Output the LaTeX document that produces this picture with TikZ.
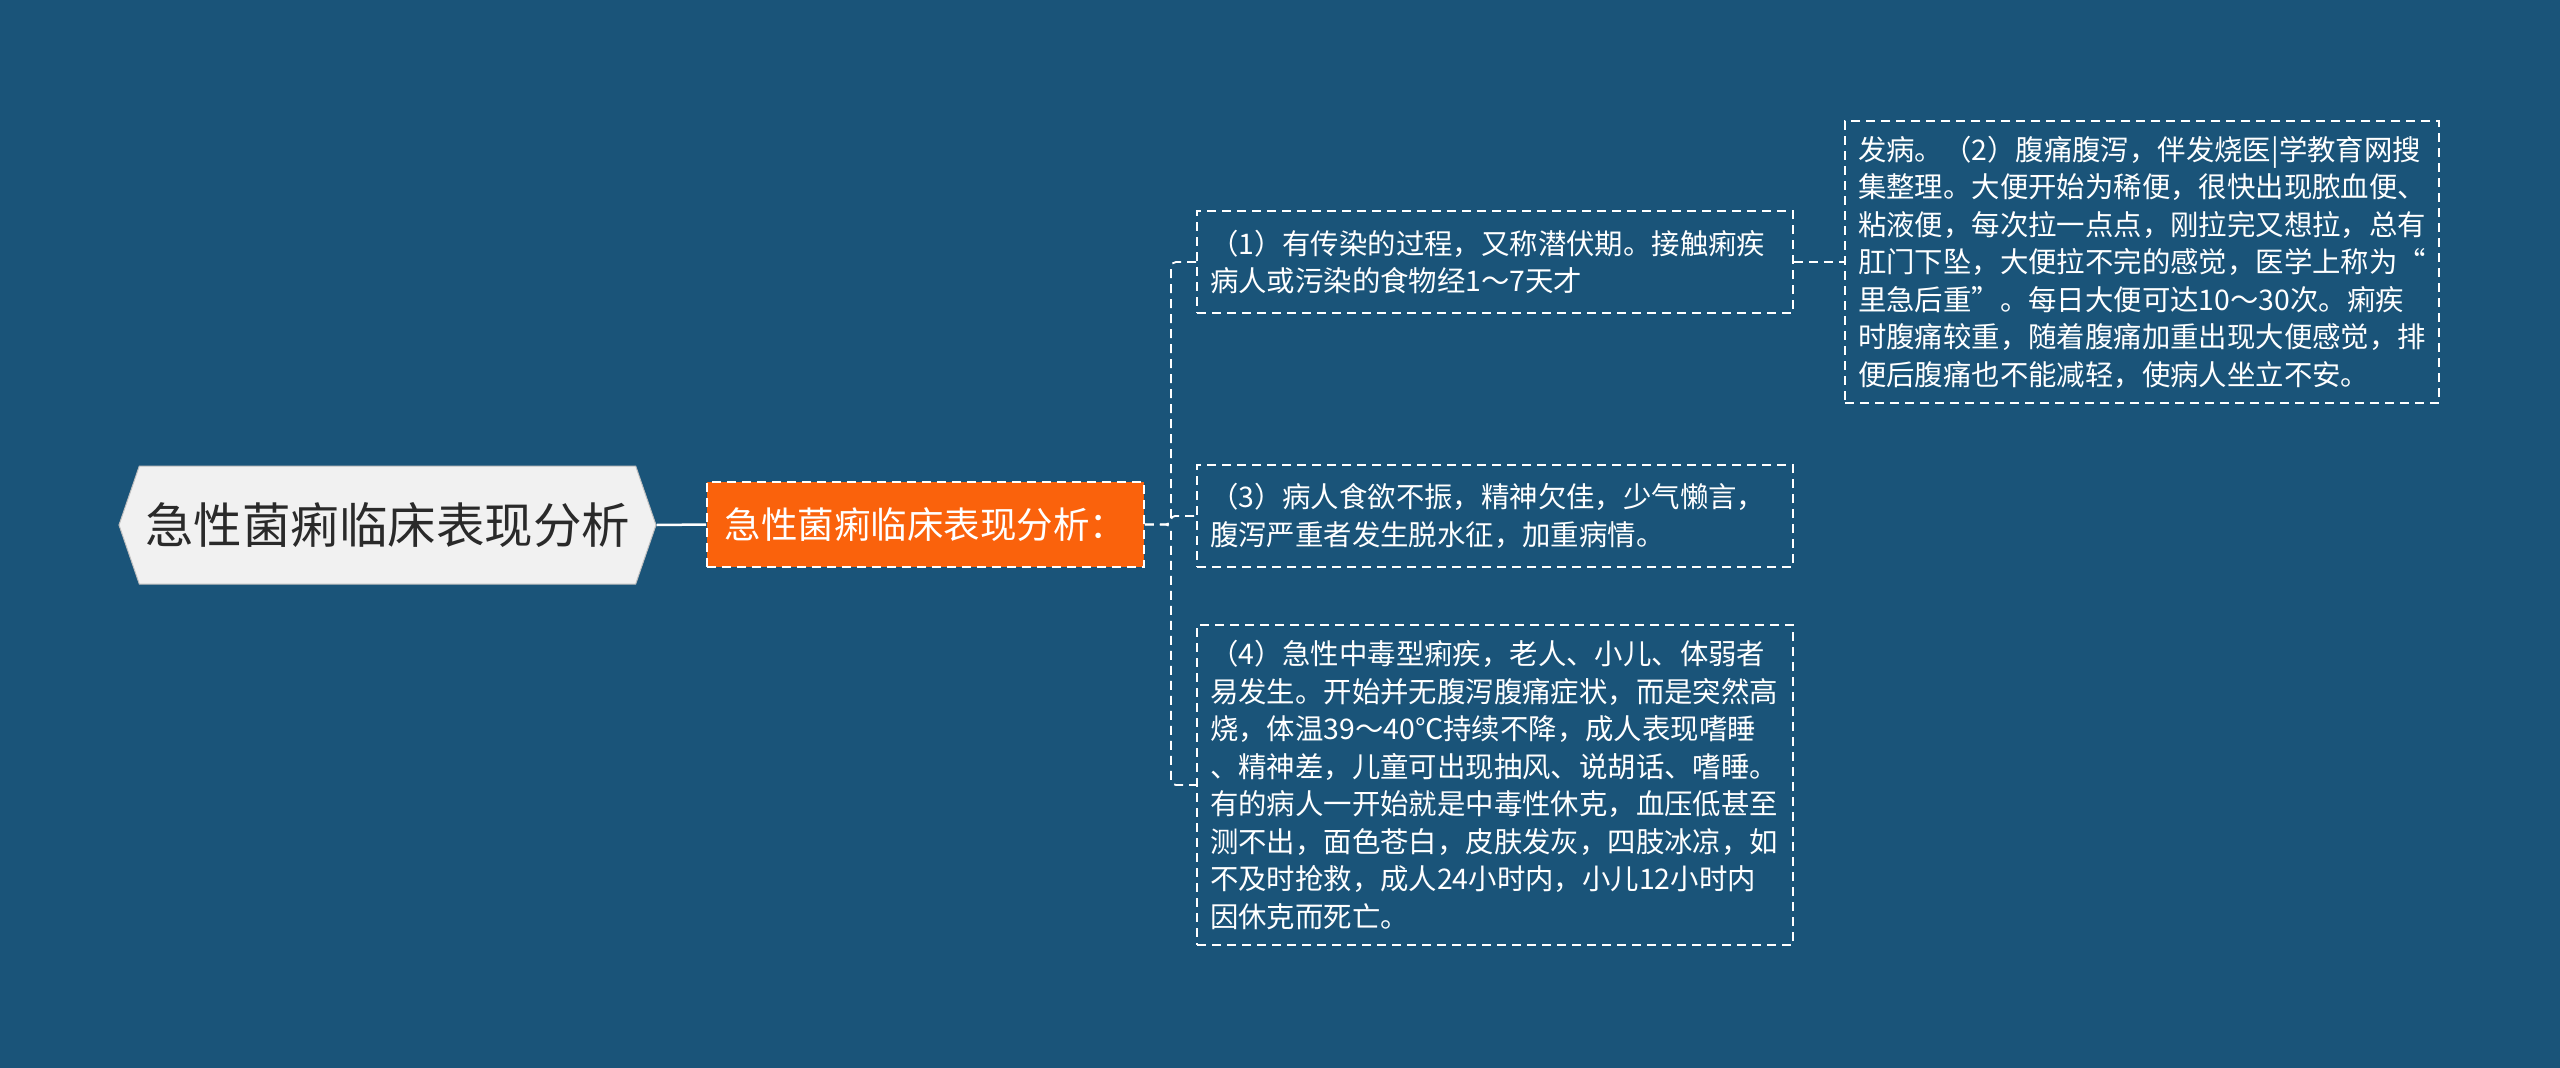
\documentclass[tikz,border=0pt]{standalone}
\usepackage{fontspec}
\newfontfamily\cjk{Noto Sans CJK SC}
\usetikzlibrary{shapes.symbols}
\definecolor{bg}{HTML}{1A5479}
\definecolor{orangebox}{HTML}{FA620C}
\definecolor{rootfill}{HTML}{F1F1F1}
\definecolor{roottext}{HTML}{2A2A2A}
\tikzset{
  x=1pt, y=-1pt,
  conn/.style={draw=white, line width=1.8pt, dash pattern=on 9pt off 6pt},
  textbox/.style={draw=white, line width=1.8pt, dash pattern=on 9pt off 6pt,
    text=white, font=\cjk\fontsize{28.4}{37.5}\selectfont, align=left,
    inner xsep=13pt, inner ysep=6pt},
}
\begin{document}
\begin{tikzpicture}
\fill[bg] (0,0) rectangle (2560,1068);
\useasboundingbox (0,0) rectangle (2560,1068);

\node[signal, signal to=west and east, signal pointer angle=142,
      fill=rootfill, draw=black!25, line width=1pt, text=roottext,
      font=\cjk\fontsize{48.5}{56}\selectfont,
      minimum width=537pt, minimum height=118pt, inner sep=0pt]
  (root) at (387.5,525) {急性菌痢临床表现分析};

\node[fill=orangebox, draw=white, line width=1.8pt, dash pattern=on 9pt off 6pt,
      text=white, font=\cjk\fontsize{36.5}{44}\selectfont,
      minimum width=437pt, minimum height=85pt, inner sep=0pt]
  (orange) at (925.5,524.5) {急性菌痢临床表现分析：};

\node[textbox, text width=570pt, minimum height=102pt] (b1) at (1495,262)
  {（1）有传染的过程，又称潜伏期。接触痢疾\\病人或污染的食物经1～7天才};

\node[textbox, text width=568pt, minimum height=282pt] (b2) at (2142,262)
  {发病。（2）腹痛腹泻，伴发烧医|学教育网搜\\集整理。大便开始为稀便，很快出现脓血便、\\粘液便，每次拉一点点，刚拉完又想拉，总有\\肛门下坠，大便拉不完的感觉，医学上称为“\\里急后重”。每日大便可达10～30次。痢疾\\时腹痛较重，随着腹痛加重出现大便感觉，排\\便后腹痛也不能减轻，使病人坐立不安。};

\node[textbox, text width=570pt, minimum height=102pt] (b3) at (1495,516)
  {（3）病人食欲不振，精神欠佳，少气懒言，\\腹泻严重者发生脱水征，加重病情。};

\node[textbox, text width=570pt, minimum height=320pt] (b4) at (1495,785)
  {（4）急性中毒型痢疾，老人、小儿、体弱者\\易发生。开始并无腹泻腹痛症状，而是突然高\\烧，体温39～40℃持续不降，成人表现嗜睡\\、精神差，儿童可出现抽风、说胡话、嗜睡。\\有的病人一开始就是中毒性休克，血压低甚至\\测不出，面色苍白，皮肤发灰，四肢冰凉，如\\不及时抢救，成人24小时内，小儿12小时内\\因休克而死亡。};

\draw[white, line width=2.5pt] (root.east) -- (orange.west);
\draw[conn, rounded corners=5pt] (orange.east) -- ([xshift=26pt]orange.east) |- (b1.west);
\draw[conn, rounded corners=4pt] (orange.east) -- ([xshift=26pt]orange.east) |- (b3.west);
\draw[conn, rounded corners=5pt] (orange.east) -- ([xshift=26pt]orange.east) |- (b4.west);
\draw[conn] (b1.east) -- (b2.west);
\end{tikzpicture}
\end{document}
